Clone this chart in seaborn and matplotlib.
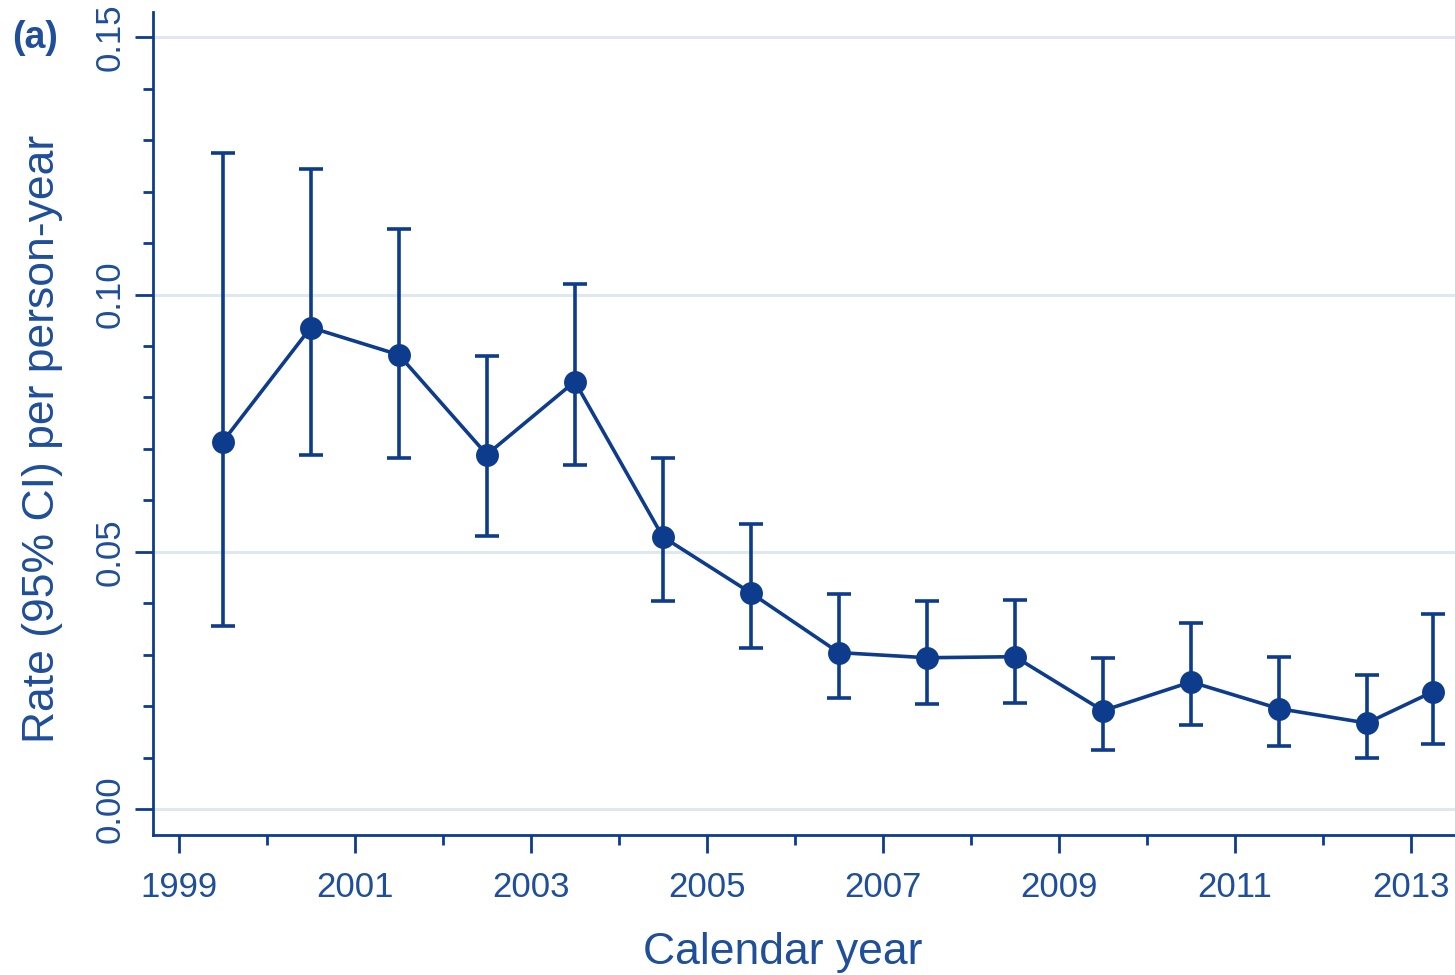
"""Rate (95% CI) per person-year by calendar year, panel (a)."""

import matplotlib.pyplot as plt
import numpy as np
import pandas as pd
import seaborn as sns
from matplotlib.ticker import MultipleLocator

# mid-year positions; the last year is only partly covered
years = [1999.5, 2000.5, 2001.5, 2002.5, 2003.5, 2004.5, 2005.5, 2006.5,
         2007.5, 2008.5, 2009.5, 2010.5, 2011.5, 2012.5, 2013.25]
rate = [0.0714, 0.0936, 0.0883, 0.0689, 0.0831, 0.0529, 0.0420, 0.0304,
        0.0294, 0.0296, 0.0191, 0.0247, 0.0195, 0.0167, 0.0228]
ci_low = [0.0356, 0.0689, 0.0683, 0.0531, 0.0669, 0.0405, 0.0313, 0.0216,
          0.0204, 0.0206, 0.0115, 0.0163, 0.0123, 0.0099, 0.0126]
ci_high = [0.1276, 0.1245, 0.1128, 0.0881, 0.1021, 0.0683, 0.0554, 0.0418,
           0.0405, 0.0407, 0.0294, 0.0362, 0.0296, 0.0261, 0.0379]
x_labels = [1999, 2001, 2003, 2005, 2007, 2009, 2011, 2013]
y_labels = [0.00, 0.05, 0.10, 0.15]

NAVY = "#0d3c8c"
TEXT = "#1f4e9a"
GRID = "#dfe7f1"

sns.set_style("white")
plt.rcParams["font.family"] = ["Liberation Sans", "DejaVu Sans"]

df = pd.DataFrame({"year": years, "rate": rate, "lo": ci_low, "hi": ci_high})

fig = plt.figure(figsize=(14.55, 9.75), dpi=100)
ax = fig.add_axes([0.105, 0.1436, 0.895, 0.8444])

for y in y_labels:
    ax.axhline(y, color=GRID, lw=2.2, zorder=0)

ax.errorbar(df["year"], df["rate"],
            yerr=[df["rate"] - df["lo"], df["hi"] - df["rate"]],
            fmt="none", ecolor=NAVY, elinewidth=2.6, capsize=8.5,
            capthick=2.6, zorder=2)
sns.lineplot(data=df, x="year", y="rate", ax=ax, color=NAVY, lw=2.6,
             marker="o", markersize=16.5, markeredgewidth=0, zorder=3)

ax.set_xlim(1998.705, 2013.5)
ax.set_ylim(-0.00506, 0.155)
ax.set_xticks(x_labels)
ax.set_xticklabels([str(v) for v in x_labels])
ax.xaxis.set_minor_locator(MultipleLocator(1))
ax.set_yticks(y_labels)
ax.set_yticklabels([f"{v:.2f}" for v in y_labels], rotation=90, va="center")
ax.yaxis.set_minor_locator(MultipleLocator(0.01))

ax.tick_params(axis="both", which="both", bottom=True, left=True)
ax.tick_params(axis="both", which="major", direction="out", length=13,
               width=2, color=NAVY, labelcolor=TEXT, labelsize=25)
ax.tick_params(axis="both", which="minor", direction="out", length=7,
               width=2, color=NAVY)
ax.tick_params(axis="x", which="major", pad=13)
ax.tick_params(axis="y", which="major", pad=6)

for side in ["top", "right"]:
    ax.spines[side].set_visible(False)
for side in ["left", "bottom"]:
    ax.spines[side].set_color(NAVY)
    ax.spines[side].set_linewidth(2)

ax.set_xlabel("Calendar year", fontsize=32, color=TEXT, labelpad=20)
ax.set_ylabel("Rate (95% CI) per person-year", fontsize=32, color=TEXT,
              labelpad=22)
ax.xaxis.label.set_x(0.484)
ax.yaxis.label.set_y(0.481)

fig.text(0.008, 0.951, "(a)", fontsize=27, fontweight="bold", color=TEXT)

fig.savefig("out.png", dpi=100)
plt.close(fig)
